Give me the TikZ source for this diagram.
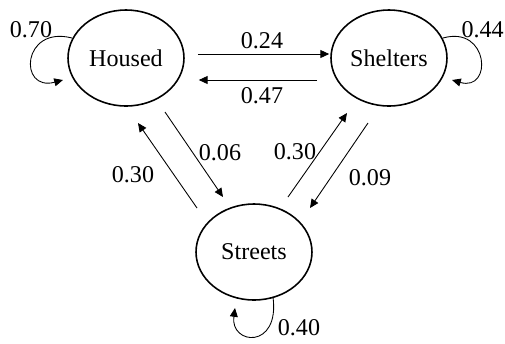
\documentclass[tikz,border=0pt]{standalone}
\usepackage{fontspec}
\setmainfont{Liberation Serif}
\usetikzlibrary{arrows.meta,shapes.geometric,calc}

\begin{document}
\begin{tikzpicture}[
  x=0.02cm,y=-0.02cm,
  state/.style={ellipse,draw=black,line width=0.9pt,minimum width=2.32cm,
                minimum height=1.92cm,inner sep=0pt,font=\fontsize{13.7}{16}\selectfont},
  trans/.style={line width=0.5pt,-{Triangle[length=5pt,width=4.5pt]}},
  lab/.style={font=\fontsize{13.7}{16}\selectfont,inner sep=0pt}
]
\useasboundingbox (0,0) rectangle (505,343);

% ---- States ----
\node[state] (housed) at (126,58) {Housed};
\node[state] (shelters) at (389,58) {Shelters};
\node[state] (streets) at (254,252) {Streets};

% ---- Transitions between states ----
\draw[trans] ($(housed.east)+(13,-4)$) -- ($(shelters.west)+(-1,-4)$);
\draw[trans] ($(shelters.west)+(-13,22)$) -- ($(housed.east)+(14,22)$);
\draw[trans] ($(streets)+(-57,-44)$) -- ($(housed)+(12,65)$);
\draw[trans] ($(housed)+(39,54)$) -- ($(streets)+(-31,-55)$);
\draw[trans] ($(streets)+(34,-55)$) -- ($(shelters)+(-42,55)$);
\draw[trans] ($(shelters)+(-21,65)$) -- ($(streets)+(56,-44)$);

% ---- Self loops ----
\draw[trans] ($(housed)+(-54,-20)$) .. controls ($(housed)+(-104,-33)$)
  and ($(housed)+(-108,34)$) .. ($(housed)+(-63,22)$);
\draw[trans] ($(shelters)+(54,-20)$) .. controls ($(shelters)+(100,-33)$)
  and ($(shelters)+(104,34)$) .. ($(shelters)+(63,22)$);
\draw[trans] ($(streets)+(19,45)$) .. controls ($(streets)+(26,98)$)
  and ($(streets)+(-24,93)$) .. ($(streets)+(-19,56)$);

% ---- Probabilities ----
\node[lab] (p70) at (31,30) {0.70};
\node[lab,anchor=east] (p44) at (504,30) {0.44};
\node[lab] (p24) at (262,41) {0.24};
\node[lab] (p47) at (262,96) {0.47};
\node[lab] (p30a) at (133,175) {0.30};
\node[lab] (p06) at (220,153) {0.06};
\node[lab] (p30b) at (295,152) {0.30};
\node[lab] (p09) at (370,178) {0.09};
\node[lab] (p40) at (299,328) {0.40};

\end{tikzpicture}
\end{document}
